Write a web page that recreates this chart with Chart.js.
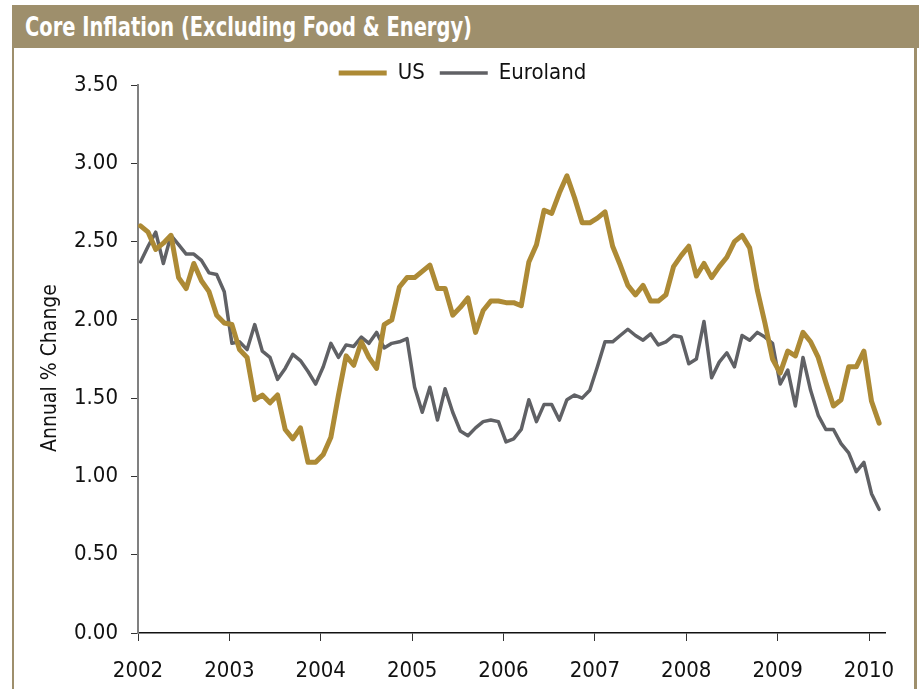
<!DOCTYPE html>
<html>
<head>
<meta charset="utf-8">
<script src="https://cdn.jsdelivr.net/npm/chart.js@4.4.0/dist/chart.umd.min.js"></script>
<style>
  html, body { margin: 0; padding: 0; background: #fff; }
  body { width: 919px; height: 689px; position: relative; overflow: hidden;
         font-family: 'Liberation Sans Narrow', 'DejaVu Sans Condensed', sans-serif; }
  #bar { position: absolute; left: 12px; top: 5px; right: 0; height: 43px; background: #9e8f6c; }
  #bar span { position: absolute; left: 13px; top: 7px; color: #fff; font-weight: bold;
              font-size: 26px; line-height: 30px; white-space: nowrap; transform-origin: 0 50%; }
  #frame { position: absolute; left: 12px; top: 48px; width: 900px; height: 660px;
           border-left: 2px solid #9e8f6c; border-right: 3px solid #9e8f6c; }
  #chart { position: absolute; left: 0; top: 0; }
</style>
</head>
<body>
<div id="bar"><span id="title">Core Inflation (Excluding Food &amp; Energy)</span></div>
<div id="frame"></div>
<canvas id="chart" width="919" height="689"></canvas>
<script>
// monthly, Jan 2002 - Feb 2010
const years = ['2002', '2003', '2004', '2005', '2006', '2007', '2008', '2009', '2010'];
const yTicks = [0, 0.5, 1, 1.5, 2, 2.5, 3, 3.5];

const us = [
  2.60, 2.56, 2.45, 2.49, 2.54, 2.27, 2.20, 2.36, 2.25, 2.18, 2.03, 1.98,
  1.97, 1.81, 1.76, 1.49, 1.52, 1.47, 1.52, 1.30, 1.24, 1.31, 1.09, 1.09,
  1.14, 1.25, 1.52, 1.77, 1.71, 1.86, 1.76, 1.69, 1.97, 2.00, 2.21, 2.27,
  2.27, 2.31, 2.35, 2.20, 2.20, 2.03, 2.08, 2.14, 1.92, 2.06, 2.12, 2.12,
  2.11, 2.11, 2.09, 2.37, 2.48, 2.70, 2.68, 2.81, 2.92, 2.78, 2.62, 2.62,
  2.65, 2.69, 2.47, 2.35, 2.22, 2.16, 2.22, 2.12, 2.12, 2.16, 2.34, 2.41,
  2.47, 2.28, 2.36, 2.27, 2.34, 2.40, 2.50, 2.54, 2.46, 2.19, 1.98, 1.75,
  1.66, 1.80, 1.77, 1.92, 1.86, 1.76, 1.60, 1.45, 1.49, 1.70, 1.70, 1.80,
  1.48, 1.34
];

const euroland = [
  2.37, 2.47, 2.56, 2.36, 2.54, 2.48, 2.42, 2.42, 2.38, 2.30, 2.29, 2.18,
  1.85, 1.86, 1.81, 1.97, 1.80, 1.76, 1.62, 1.69, 1.78, 1.74, 1.67, 1.59,
  1.70, 1.85, 1.76, 1.84, 1.83, 1.89, 1.85, 1.92, 1.82, 1.85, 1.86, 1.88,
  1.57, 1.41, 1.57, 1.36, 1.56, 1.41, 1.29, 1.26, 1.31, 1.35, 1.36, 1.35,
  1.22, 1.24, 1.30, 1.49, 1.35, 1.46, 1.46, 1.36, 1.49, 1.52, 1.50, 1.55,
  1.70, 1.86, 1.86, 1.90, 1.94, 1.90, 1.87, 1.91, 1.84, 1.86, 1.90, 1.89,
  1.72, 1.75, 1.99, 1.63, 1.73, 1.79, 1.70, 1.90, 1.87, 1.92, 1.89, 1.85,
  1.59, 1.68, 1.45, 1.76, 1.55, 1.39, 1.30, 1.30, 1.21, 1.15, 1.03, 1.09,
  0.89, 0.79
];

const toPoints = (arr) => arr.map((v, i) => ({ x: i + 0.33, y: v }));

// squeeze the heading to the width of the original condensed face
const t = document.getElementById('title');
t.style.transform = 'scaleX(' + (447 / t.getBoundingClientRect().width) + ')';

Chart.defaults.font.family = "'Liberation Sans Narrow', 'DejaVu Sans Condensed', sans-serif";
Chart.defaults.color = '#111';

// keep the legend from pushing the plot down
const legendHeight = {
  id: 'legendHeight',
  afterInit(chart) {
    const lg = chart.legend;
    const fit = lg.fit.bind(lg);
    lg.fit = function () { fit(); this.height = 38; };
  }
};

new Chart(document.getElementById('chart'), {
  type: 'line',
  data: {
    datasets: [
      {
        label: 'US',
        data: toPoints(us),
        borderColor: '#ad8a35',
        backgroundColor: '#ad8a35',
        borderWidth: 5,
        borderCapStyle: 'round',
        borderJoinStyle: 'round',
        pointRadius: 0,
        tension: 0
      },
      {
        label: 'Euroland',
        data: toPoints(euroland),
        borderColor: '#606165',
        backgroundColor: '#606165',
        borderWidth: 3.5,
        borderCapStyle: 'round',
        borderJoinStyle: 'round',
        pointRadius: 0,
        tension: 0
      }
    ]
  },
  options: {
    responsive: false,
    animation: false,
    devicePixelRatio: 1,
    layout: { padding: { left: 40, right: 34, top: 47, bottom: 0 } },
    plugins: {
      tooltip: { enabled: false },
      legend: {
        position: 'top',
        labels: {
          usePointStyle: true,
          pointStyle: 'line',
          pointStyleWidth: 48,
          padding: 15,
          color: '#111',
          font: { size: 22 }
        }
      }
    },
    scales: {
      x: {
        type: 'linear',
        min: 0,
        max: 98.1,
        afterBuildTicks: (s) => { s.ticks = years.map((y, k) => ({ value: k * 12 })); },
        afterFit: (s) => { s.height = 56; },
        ticks: {
          callback: (v) => years[Math.round(v / 12)],
          padding: 17,
          maxRotation: 0,
          autoSkip: false,
          color: '#111',
          font: { size: 22 }
        },
        grid: { drawOnChartArea: false, drawTicks: true, tickLength: 8, color: '#333' },
        border: { display: true, color: '#111', width: 1.5 }
      },
      y: {
        min: 0,
        max: 3.5,
        afterBuildTicks: (s) => { s.ticks = yTicks.map((v) => ({ value: v })); },
        afterFit: (s) => { s.width = 98; },
        ticks: {
          callback: (v) => v.toFixed(2),
          padding: 13,
          color: '#111',
          font: { size: 22 }
        },
        grid: { drawOnChartArea: false, drawTicks: true, tickLength: 7, color: '#333' },
        border: { display: true, color: '#808080', width: 2 },
        title: {
          display: true,
          text: 'Annual % Change   ',
          color: '#111',
          padding: { top: 0, bottom: 0 },
          font: { size: 21, lineHeight: 1 }
        }
      }
    }
  },
  plugins: [legendHeight]
});
</script>
</body>
</html>
